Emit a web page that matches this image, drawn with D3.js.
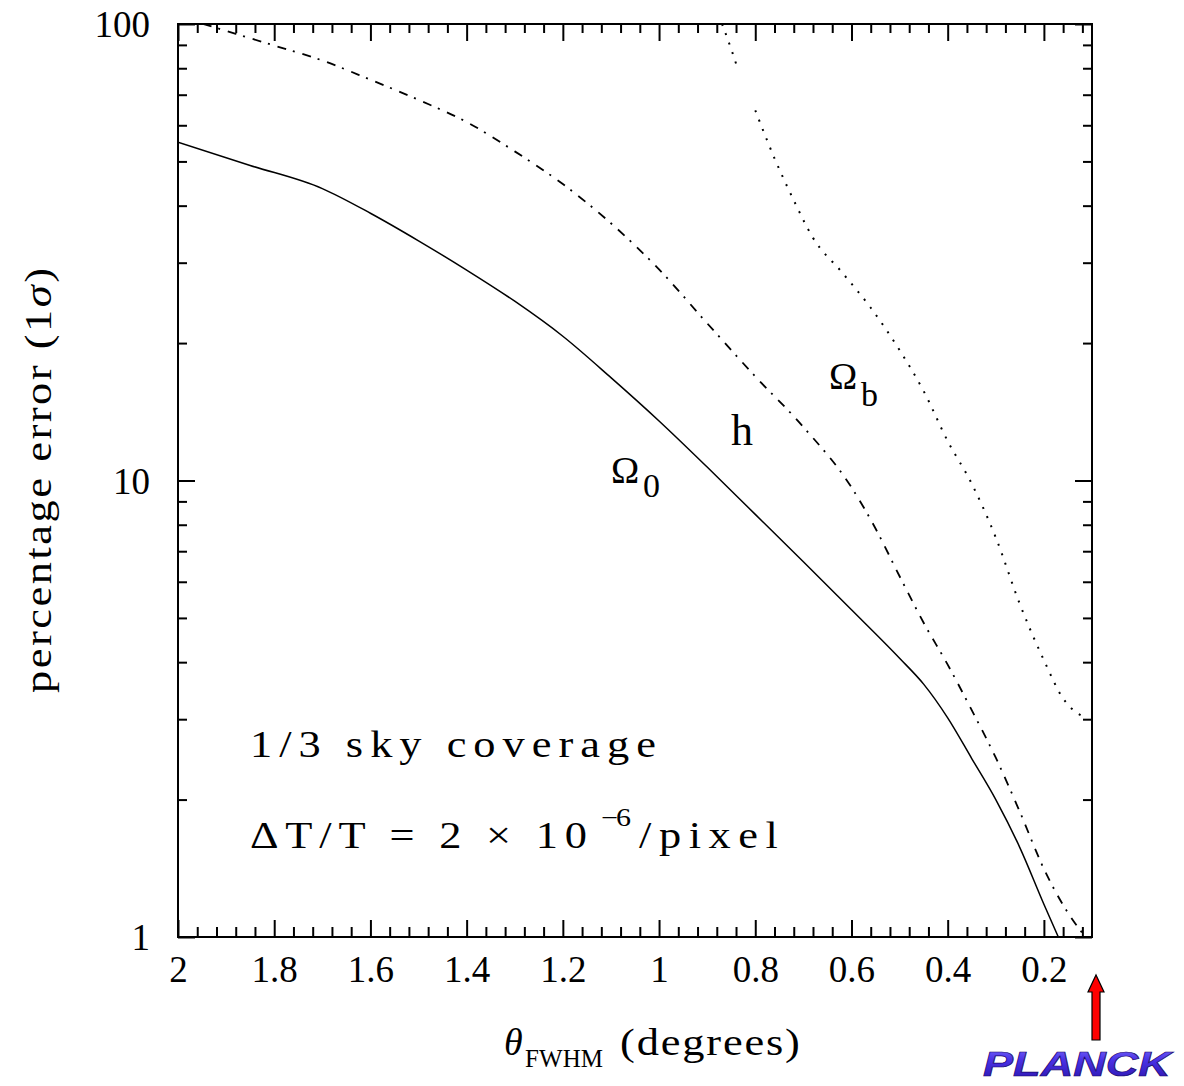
<!DOCTYPE html>
<html>
<head>
<meta charset="utf-8">
<script src="https://cdn.jsdelivr.net/npm/d3@7"></script>
<style>
  html, body { margin: 0; padding: 0; background: #fff; }
  svg { display: block; }
</style>
</head>
<body>
<svg id="chart" width="1184" height="1086"></svg>
<script>
// Forecast 1-sigma percentage errors versus beam size (theta FWHM, degrees)

// Omega_0 (solid)
const omega0Theta = [2.0, 1.85, 1.7, 1.6, 1.5, 1.4, 1.3, 1.2, 1.1, 1.0, 0.9, 0.8, 0.7, 0.6, 0.5, 0.45, 0.4, 0.35, 0.3, 0.25, 0.2, 0.17];
const omega0Error = [55.1, 49.0, 43.6, 38.5, 33.5, 28.9, 24.7, 20.7, 16.8, 13.5, 10.7, 8.43, 6.64, 5.21, 4.08, 3.58, 3.02, 2.46, 2.0, 1.57, 1.18, 1.0];

// h (dash-dot)
const hTheta = [2.0, 1.9, 1.8, 1.7, 1.6, 1.5, 1.4, 1.3, 1.2, 1.1, 1.0, 0.9, 0.8, 0.7, 0.6, 0.55, 0.5, 0.45, 0.4, 0.35, 0.3, 0.25, 0.2, 0.15, 0.12];
const hError = [104, 96.6, 89.7, 83.2, 75.5, 68.2, 61.0, 52.6, 44.6, 36.6, 29.0, 22.1, 16.9, 13.1, 9.66, 7.85, 6.17, 4.88, 3.95, 3.14, 2.47, 1.88, 1.41, 1.13, 1.02];

// Omega_b (dotted); null leaves a break in the drawn curve
const omegabTheta = [0.869, 0.85, 0.835, 0.818, 0.8, 0.76, 0.72, 0.68, 0.62, 0.56, 0.5, 0.45, 0.4, 0.35, 0.3, 0.25, 0.2, 0.16, 0.13, 0.11];
const omegabError = [100, 88.1, 78.9, null, 64.7, 50.8, 41.1, 34.0, 28.6, 23.9, 19.3, 15.7, 12.2, 9.84, 7.50, 5.36, 4.04, 3.33, 3.09, 3.02];

// Axis ticks
const xMajorTicks = [2, 1.8, 1.6, 1.4, 1.2, 1, 0.8, 0.6, 0.4, 0.2];
const xTickLabels = ["2", "1.8", "1.6", "1.4", "1.2", "1", "0.8", "0.6", "0.4", "0.2"];
const yMajorTicks = [1, 10, 100];
const yTickLabels = ["1", "10", "100"];
const yMinorTicks = [2, 3, 4, 5, 6, 7, 8, 9, 20, 30, 40, 50, 60, 70, 80, 90];

// Planck beam width marked below the axis
const planckBeam = 0.1;

const serif = "'Liberation Serif', 'Times New Roman', serif";
const svg = d3.select("#chart");

const plot = { left: 178, right: 1092, top: 24, bottom: 937 };
const x = d3.scaleLinear().domain([2, 0.1]).range([plot.left, plot.right]);
const y = d3.scaleLog().domain([1, 100]).range([plot.bottom, plot.top]);

const xMinorTicks = [];
for (let i = 1; i < 48; i++) if (i % 5) xMinorTicks.push(+(2 - i * 0.04).toFixed(2));

// Place a text so that it spans `width` pixels: a horizontal stretch `sx`
// (or an automatic one when sx is "auto") plus letter spacing for the rest.
function fitText(t, tx, ty, width, sx = 1.2, rotate = 0) {
  const node = t.node();
  const nat = node.getComputedTextLength();
  const n = node.textContent.length;
  let ls = 0;
  if (sx === "auto") sx = width / nat;
  else ls = (width / sx - nat) / Math.max(n - 1, 1);
  t.attr("letter-spacing", ls.toFixed(2))
   .attr("transform", `translate(${tx},${ty}) rotate(${rotate}) scale(${sx},1)`);
  return t;
}

function styleAxis(g) {
  g.select(".domain").remove();
  g.selectAll(".tick line").attr("stroke", "#000").attr("stroke-width", 2);
  g.attr("font-family", serif);
}

// bottom axis with labels
const gxb = svg.append("g").attr("transform", `translate(0,${plot.bottom})`)
  .call(d3.axisBottom(x).tickValues(xMajorTicks).tickSize(-17)
    .tickFormat((d, i) => xTickLabels[i]));
styleAxis(gxb);
gxb.selectAll(".tick text").attr("y", 45).attr("dy", null)
  .attr("font-size", 37).attr("fill", "#000");
svg.append("g").attr("transform", `translate(0,${plot.bottom})`)
  .call(d3.axisBottom(x).tickValues(xMinorTicks).tickSize(-10).tickFormat(""))
  .call(styleAxis);

// top axis
svg.append("g").attr("transform", `translate(0,${plot.top})`)
  .call(d3.axisTop(x).tickValues(xMajorTicks).tickSize(-17).tickFormat(""))
  .call(styleAxis);
svg.append("g").attr("transform", `translate(0,${plot.top})`)
  .call(d3.axisTop(x).tickValues(xMinorTicks).tickSize(-9).tickFormat(""))
  .call(styleAxis);

// left axis with labels
const gyl = svg.append("g").attr("transform", `translate(${plot.left},0)`)
  .call(d3.axisLeft(y).tickValues(yMajorTicks).tickSize(-17)
    .tickFormat((d, i) => yTickLabels[i]));
styleAxis(gyl);
gyl.selectAll(".tick text").attr("x", -28).attr("dy", "0.34em")
  .attr("font-size", 37).attr("fill", "#000");
svg.append("g").attr("transform", `translate(${plot.left},0)`)
  .call(d3.axisLeft(y).tickValues(yMinorTicks).tickSize(-9).tickFormat(""))
  .call(styleAxis);

// right axis
svg.append("g").attr("transform", `translate(${plot.right},0)`)
  .call(d3.axisRight(y).tickValues(yMajorTicks).tickSize(-17).tickFormat(""))
  .call(styleAxis);
svg.append("g").attr("transform", `translate(${plot.right},0)`)
  .call(d3.axisRight(y).tickValues(yMinorTicks).tickSize(-9).tickFormat(""))
  .call(styleAxis);

// frame
svg.append("rect")
  .attr("x", plot.left).attr("y", plot.top)
  .attr("width", plot.right - plot.left).attr("height", plot.bottom - plot.top)
  .attr("fill", "none").attr("stroke", "#000").attr("stroke-width", 2);

// curves
svg.append("clipPath").attr("id", "plot-clip").append("rect")
  .attr("x", plot.left).attr("y", plot.top)
  .attr("width", plot.right - plot.left).attr("height", plot.bottom - plot.top);

const line = d3.line()
  .defined(d => d[1] != null)
  .x(d => x(d[0])).y(d => y(d[1]))
  .curve(d3.curveMonotoneX);

const curves = svg.append("g").attr("clip-path", "url(#plot-clip)")
  .attr("fill", "none").attr("stroke", "#000");

curves.append("path")
  .attr("d", line(d3.zip(omega0Theta, omega0Error)))
  .attr("stroke-width", 1.5);

curves.append("path")
  .attr("d", line(d3.zip(hTheta, hError)))
  .attr("stroke-width", 1.8)
  .attr("stroke-dasharray", "9,7,2,8");

curves.append("path")
  .attr("d", line(d3.zip(omegabTheta, omegabError)))
  .attr("stroke-width", 2)
  .attr("stroke-dasharray", "2,8");

// curve labels
const lab = svg.append("g").attr("fill", "#000");
lab.append("text").attr("x", 611).attr("y", 483).attr("font-family", serif).attr("font-size", 38).text("Ω");
lab.append("text").attr("x", 643).attr("y", 497).attr("font-family", serif).attr("font-size", 34).text("0");
lab.append("text").attr("x", 731).attr("y", 445).attr("font-family", serif).attr("font-size", 44).text("h");
lab.append("text").attr("x", 829).attr("y", 389).attr("font-family", serif).attr("font-size", 38).text("Ω");
lab.append("text").attr("x", 861).attr("y", 406).attr("font-family", serif).attr("font-size", 34).text("b");

// survey notes
const note = (s, size) => lab.append("text").attr("font-family", serif).attr("font-size", size).text(s);
fitText(note("1/3 sky coverage", 37), 250, 757, 406);
fitText(note("ΔT/T = 2 × 10", 37), 250, 848, 337);
fitText(note("−6", 25), 601, 826, 30);
fitText(note("/pixel", 37), 639, 848, 139);

// axis titles
const yTitle = svg.append("text")
  .attr("font-family", serif).attr("font-size", 37).attr("fill", "#000");
yTitle.append("tspan").text("percentage error (1");
yTitle.append("tspan").attr("font-style", "italic").text("σ");
yTitle.append("tspan").text(")");
fitText(yTitle, 51, 693, 425, 1.2, -90);

lab.append("text").attr("x", 504).attr("y", 1055).attr("font-family", serif)
  .attr("font-size", 38).attr("font-style", "italic").text("θ");
fitText(note("FWHM", 25), 525, 1067, 78, 1.0);
fitText(note("(degrees)", 37), 620, 1055, 180);

// Planck marker: arrow and name under the right end of the axis
const ax = x(planckBeam) + 4;
svg.append("path")
  .attr("d", `M${ax - 4},1040 L${ax - 4},992 L${ax - 8},992 L${ax},975 L${ax + 8},992 L${ax + 4},992 L${ax + 4},1040 Z`)
  .attr("fill", "#ff0000").attr("stroke", "#000").attr("stroke-width", 1.2);

const defs = svg.append("defs");
const grad = defs.append("linearGradient").attr("id", "planck-fill")
  .attr("x1", 0).attr("y1", 0).attr("x2", 0).attr("y2", 1);
grad.append("stop").attr("offset", "0%").attr("stop-color", "#7f72ff");
grad.append("stop").attr("offset", "40%").attr("stop-color", "#4a32e6");
grad.append("stop").attr("offset", "100%").attr("stop-color", "#2812a8");

fitText(svg.append("text")
  .attr("font-family", "'Liberation Sans', Arial, sans-serif")
  .attr("font-size", 35).attr("font-weight", "bold").attr("font-style", "italic")
  .attr("fill", "url(#planck-fill)").attr("stroke", "#1a0870").attr("stroke-width", 0.7)
  .text("PLANCK"), 983, 1076, 188, "auto");
</script>
</body>
</html>
